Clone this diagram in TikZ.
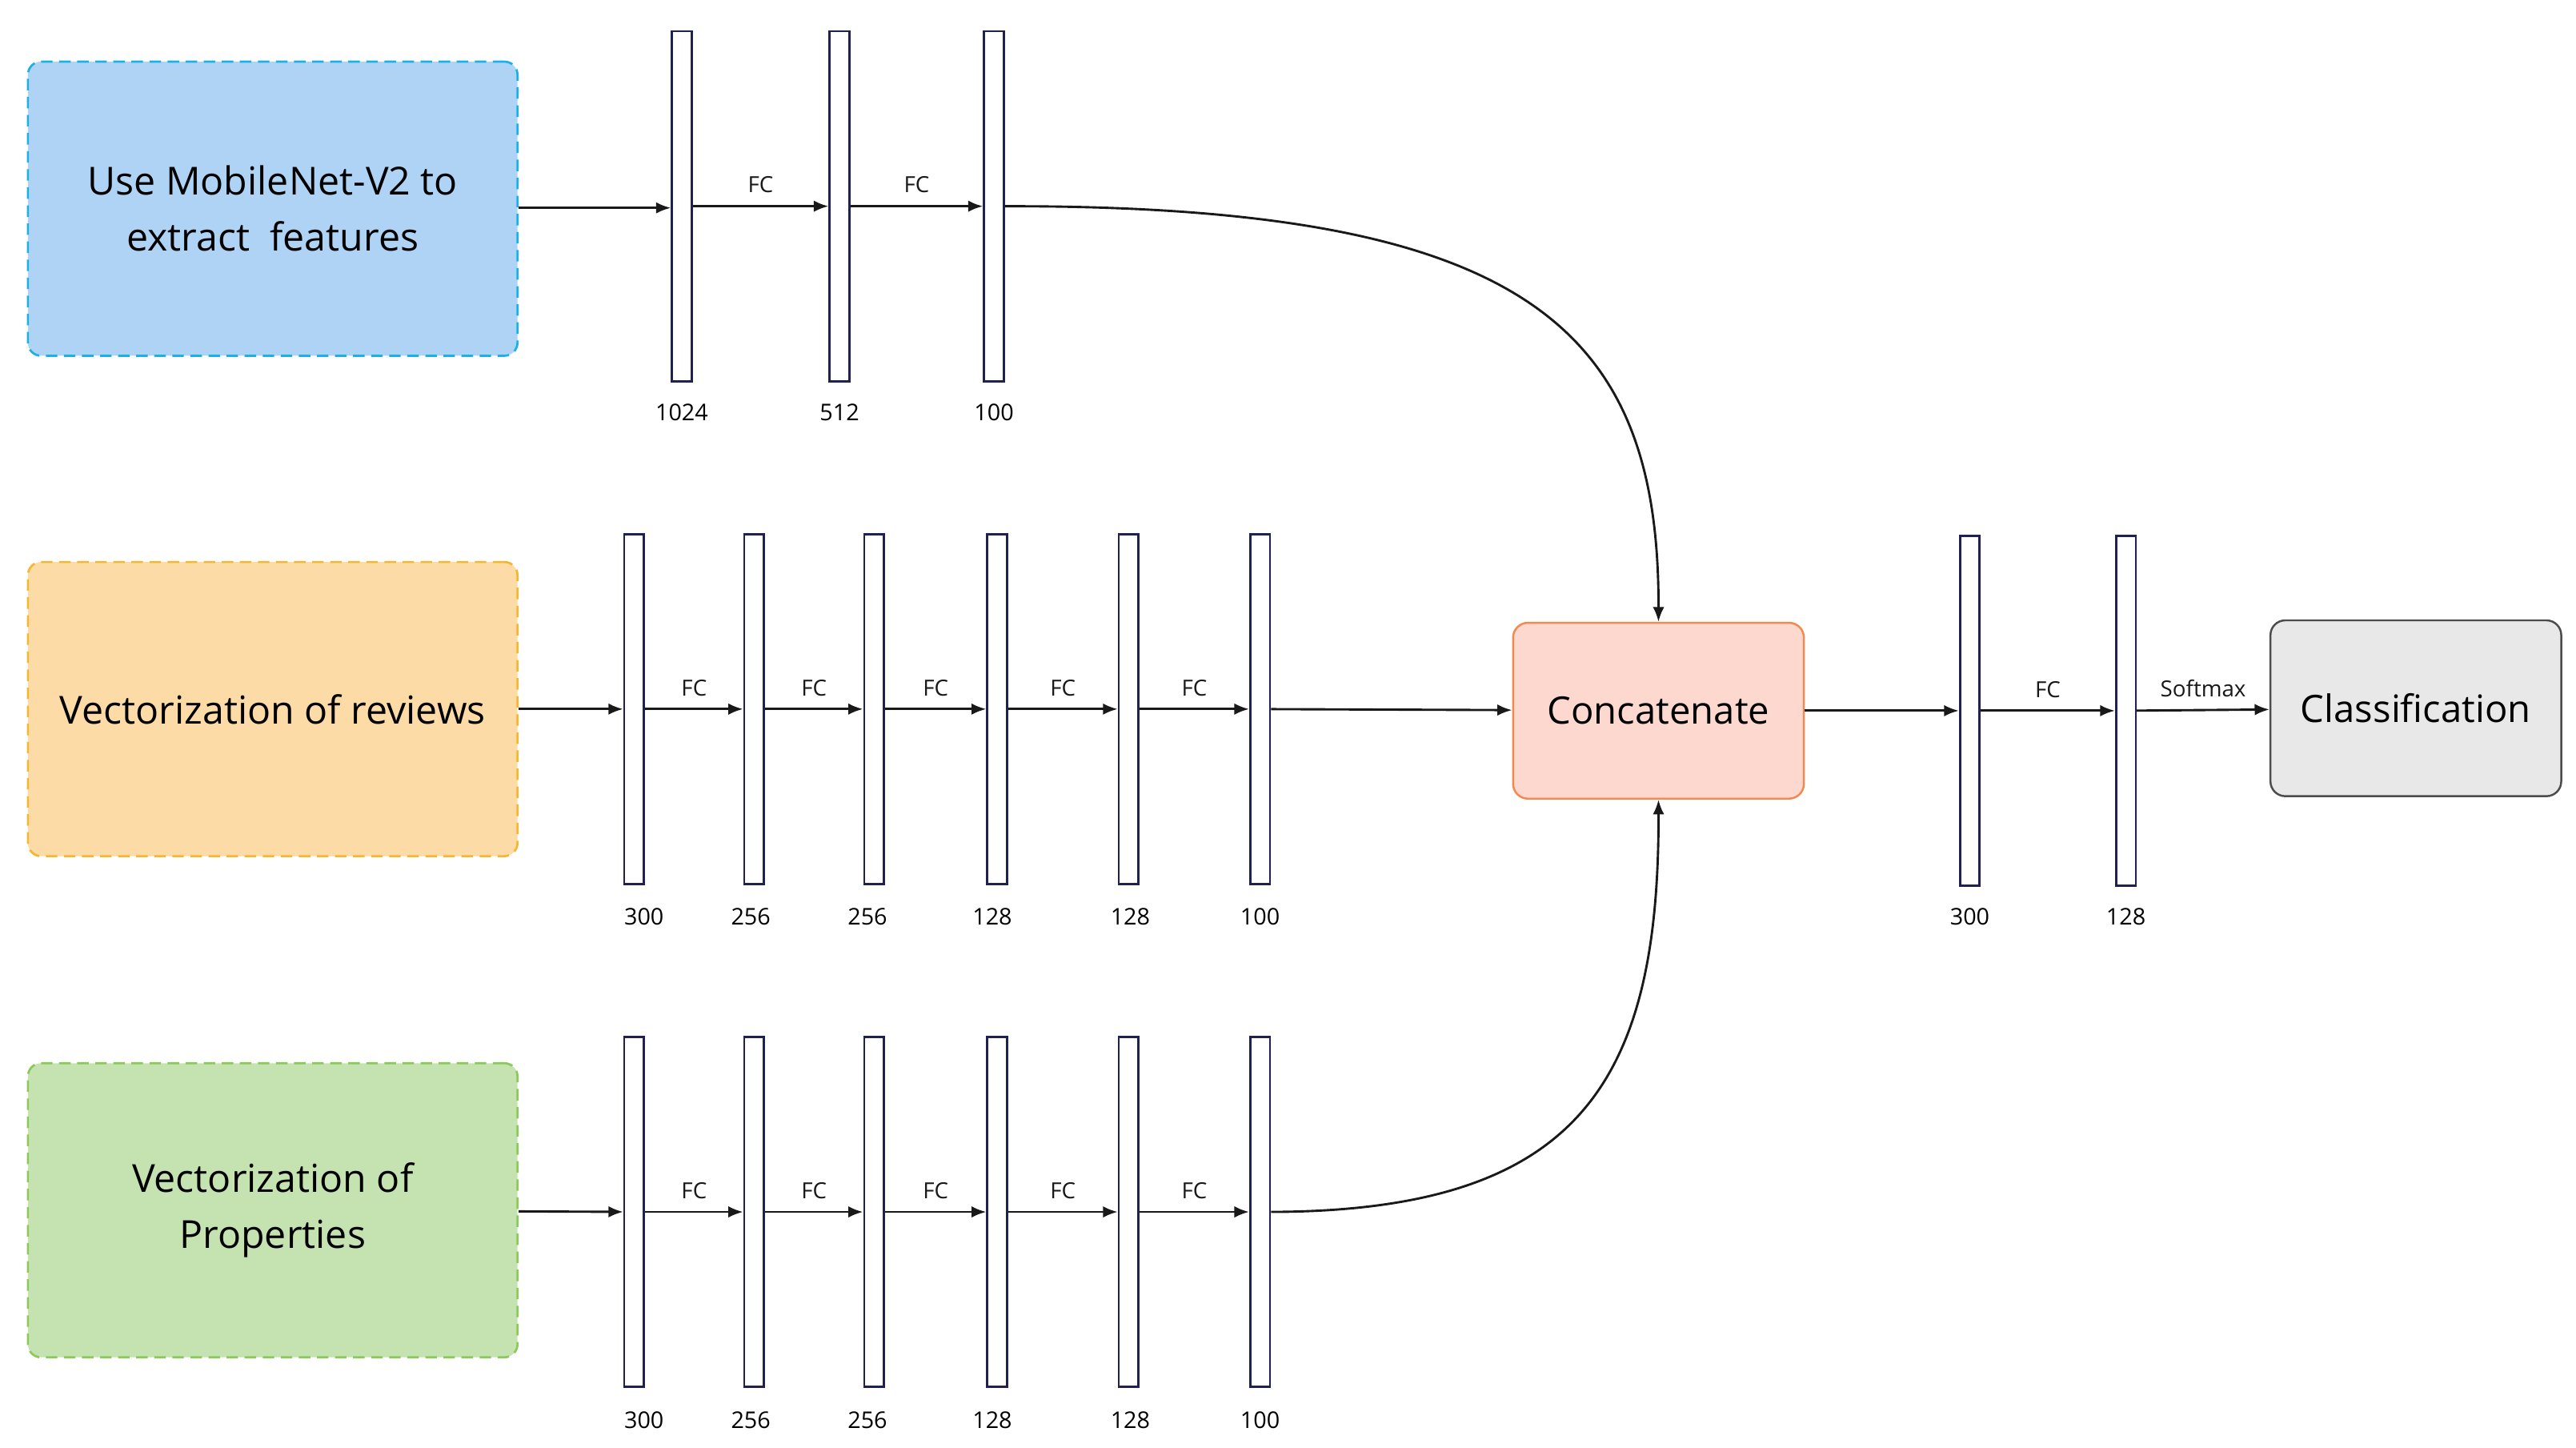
\documentclass[tikz,border=0pt]{standalone}
\usepackage{fontspec}
\setmainfont{Open Sans}
\usetikzlibrary{arrows.meta}
\definecolor{bluef}{HTML}{AED3F5}\definecolor{blued}{HTML}{1AB0E8}
\definecolor{orf}{HTML}{FDDBA6}\definecolor{ord}{HTML}{F5B731}
\definecolor{grf}{HTML}{C5E3B0}\definecolor{grd}{HTML}{8DC85A}
\definecolor{conf}{HTML}{FDD8CF}\definecolor{cond}{HTML}{F5884F}
\definecolor{clf}{HTML}{E8E8E8}\definecolor{bar}{HTML}{1F2250}
\begin{document}
\begin{tikzpicture}[x=1pt,y=-1pt,
  inbox/.style={draw,dashed,line width=1.3pt,dash pattern=on 7pt off 4pt,rounded corners=8pt,minimum width=298pt,minimum height=179pt,align=center,font=\fontsize{23.5}{34}\selectfont,inner sep=0},
  solbox/.style={draw,line width=1.2pt,rounded corners=9pt,minimum width=177pt,minimum height=107pt,font=\fontsize{23}{28}\selectfont,inner sep=0},
  bar/.style={draw=bar,fill=white,line width=1.3pt,minimum width=12pt,minimum height=213pt,inner sep=0},
  lab/.style={font=\fontsize{14}{16}\selectfont},
  arr/.style={-{Latex[length=9pt,width=7pt]},line width=1.4pt,black!90},
  fc/.style={midway,above=4pt,font=\fontsize{13.5}{15}\selectfont}]
\useasboundingbox (0,0) rectangle (1568,880.7);
\node[inbox,fill=bluef,draw=blued] (A) at (166,127) {Use MobileNet-V2 to\\extract\ \ features};
\node[inbox,fill=orf,draw=ord] (B) at (166,431.5) {Vectorization of reviews};
\node[inbox,fill=grf,draw=grd] (C) at (166,736.5) {Vectorization of\\Properties};
\node[solbox,fill=conf,draw=cond] (K) at (1009.5,432.5) {Concatenate};
\node[solbox,fill=clf,draw=black!70] (L) at (1470.5,431) {Classification};
% top row
\foreach \n/\x/\l in {1/415/1024,2/511/512,3/605/100}{
  \node[bar] (t\n) at (\x,125.5) {};
  \node[lab] (tl\n) at (\x,251) {\l};}
\foreach \n/\x/\l/\lx in {1/386/300/392,2/459/256/457,3/532/256/528,4/607/128/604,5/687/128/688,6/767/100/767}{
  \node[bar] (m\n) at (\x,431.5) {};
  \node[lab] (ml\n) at (\lx,558) {\l};
  \node[bar] (b\n) at (\x,737.5) {};
  \node[lab] (bl\n) at (\lx,864) {\l};}
\node[bar] (r1) at (1199,432.5) {};
\node[lab] (rl1) at (1199,558) {300};
\node[bar] (r2) at (1294,432.5) {};
\node[lab] (rl2) at (1294,558) {128};
% arrows
\draw[arr] (A.east |- 0,126.5) -- (t1.west |- 0,126.5);
\draw[arr] (t1) -- node[fc]{FC} (t2);
\draw[arr] (t2) -- node[fc]{FC} (t3);
\draw[arr] (t3.east) .. controls (930,125) and (1010,200) .. (K.north);
\draw[arr] (B) -- (m1);
\draw[arr] (C) -- (b1);
\foreach \a/\b in {1/2,2/3,3/4,4/5,5/6}{
  \draw[arr] (m\a) -- node[fc]{FC} (m\b);
  \draw[arr] (b\a) -- node[fc]{FC} (b\b);}
\draw[arr] (m6) -- (K);
\draw[arr] (b6.east) .. controls (960,737) and (1010,660) .. (K.south);
\draw[arr] (K) -- (r1);
\draw[arr] (r1) -- node[fc]{FC} (r2);
\draw[arr] (r2) -- node[fc]{Softmax} (L);
\end{tikzpicture}
\end{document}
